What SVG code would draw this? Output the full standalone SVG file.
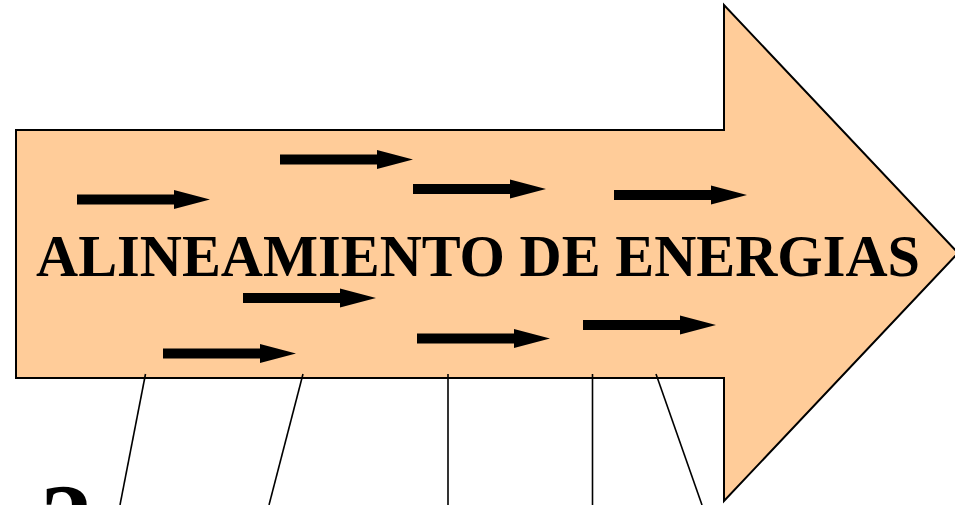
<svg xmlns="http://www.w3.org/2000/svg" xmlns:xlink="http://www.w3.org/1999/xlink" width="955" height="505" viewBox="0 0 955 505">
<style>
.big{fill:#FFCC99;stroke:#000;stroke-width:2;stroke-linejoin:miter}
.ln{stroke:#000;stroke-width:1.6;fill:none}
.t{font-family:"Liberation Serif","Times New Roman",serif;font-weight:bold;fill:#000}
</style>
<defs>
<path id="sa" d="M0,-5 H97 V-9.5 L133,0 L97,9.5 V5 H0 Z" fill="#000"/>
</defs>
<rect width="955" height="505" fill="#fff"/>
<g id="main-arrow">
<polygon class="big" points="16,130 724,130 724,5 958,253 724,501 724,378 16,378"/>
<text class="t" x="36" y="276" font-size="58.5" textLength="884" lengthAdjust="spacingAndGlyphs">ALINEAMIENTO DE ENERGIAS</text>
</g>
<g id="small-arrows">
<use xlink:href="#sa" href="#sa" transform="translate(77,199.5)"/>
<use xlink:href="#sa" href="#sa" transform="translate(280,159.5)"/>
<use xlink:href="#sa" href="#sa" transform="translate(413,189)"/>
<use xlink:href="#sa" href="#sa" transform="translate(614,195)"/>
<use xlink:href="#sa" href="#sa" transform="translate(243,298)"/>
<use xlink:href="#sa" href="#sa" transform="translate(163,353.5)"/>
<use xlink:href="#sa" href="#sa" transform="translate(417,338.5)"/>
<use xlink:href="#sa" href="#sa" transform="translate(583,325)"/>
</g>
<g id="connectors">
<line class="ln" x1="145.5" y1="374" x2="120" y2="505"/>
<line class="ln" x1="303" y1="374" x2="269" y2="505"/>
<line class="ln" x1="448" y1="374" x2="448" y2="505"/>
<line class="ln" x1="592.5" y1="374" x2="592.5" y2="505"/>
<line class="ln" x1="656" y1="374" x2="702" y2="505"/>
</g>
<g id="partial-label">
<text class="t" x="40" y="557" font-size="105">2</text>
</g>
</svg>
